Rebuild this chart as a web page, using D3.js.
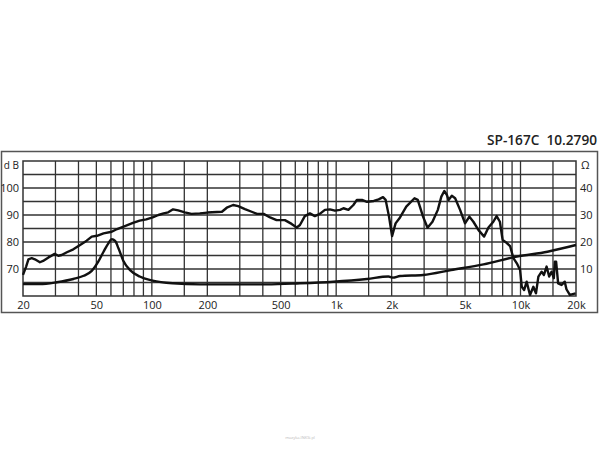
<!DOCTYPE html>
<html><head><meta charset="utf-8">
<script src="https://cdn.jsdelivr.net/npm/d3@7"></script>
<style>body{margin:0;background:#fff}svg{display:block}text{font-family:"Open Sans","Noto Sans",sans-serif}</style>
</head><body><div id="chart"></div>
<script>
const title = "SP-167C  10.2790";
const xTickVals = [20, 50, 100, 200, 500, 1000, 2000, 5000, 10000, 20000];
const xTickLabels = ["20", "50", "100", "200", "500", "1k", "2k", "5k", "10k", "20k"];
const xGrid = [30,40,50,60,70,80,90,100,150,200,300,400,500,600,700,800,900,1000,1500,2000,3000,4000,5000,6000,7000,8000,9000,10000,15000];
const dbTicks = [70, 80, 90, 100];
const ohmTicks = [10, 20, 30, 40];
const hGrid = [65,70,75,80,85,90,95,100,105];

const splFreq = [20,20.8,21.4,22.3,23.2,24.7,25.7,27.5,29.7,31.1,32.4,34.6,37.5,40.8,44.3,47.2,50.4,54.7,60.6,64.8,71.4,79,85.9,93.3,101,108.6,115.8,122.7,130.4,139,151,164,182,200,240,255,276,294,320,348,372,404,438,475,527,573,611,636,676,720,766,815,869,925,985,1050,1095,1165,1240,1295,1380,1470,1600,1700,1795,1855,1935,2010,2100,2220,2400,2660,2770,2960,3130,3330,3560,3720,3860,3990,4070,4240,4420,4700,5000,5280,5550,5920,6350,6700,7120,7420,7730,8000,8400,8780,9150,9550,9950,10160,10460,10800,11260,11740,12130,12500,13020,13400,13850,14300,14730,15160,15350,15600,16000,16700,17380,17750,18520,19900];
const splDb = [67.8,70.9,73.6,74,73.6,72.5,73,74.3,75.6,74.9,75.2,76.2,77.3,78.9,80.5,82,82.3,83.2,83.8,84.8,85.9,87.1,87.9,88.4,89.1,90,90.6,91,92.1,91.7,91,90.4,90.6,90.9,91.2,92.7,93.7,93.3,92.2,91.2,90.4,90.4,89.1,88.1,88.1,86.7,85.4,86.3,89.6,90.6,89.6,90.4,91.9,92.1,91.6,91.9,92.5,91.9,93.7,95.6,95.6,94.9,95.2,95.8,96.6,95.6,89.4,82.2,86.9,89.1,93.1,96.2,95.6,89.4,85.3,87.5,91.9,96.8,98.9,97.4,95.6,97.1,96.2,91.9,86.9,89.4,87.5,84.4,82,85.4,87.5,89.6,87.5,80.7,79.7,78.5,74,72.1,69.6,63.4,62.2,65.3,60.4,63.4,61,67.2,69,67.8,70.9,67.2,69,66.6,72.7,72.7,64.7,64.1,65.3,62.5,60.4,61];

const impFreq = [20,24.7,30.5,37.5,42.7,47.2,51.2,54.7,58.1,60.6,63.2,65.9,70.1,76.2,85.9,101,130,182,420,636,964,1470,1920,2030,2220,2960,4200,6300,9550,14000,20000];
const impOhm = [4.4,4.4,5.1,6.3,7.5,9.3,12.7,16.4,19.5,21,20.4,17.7,13,9.6,7.2,5.7,4.7,4.3,4.3,4.7,5.3,6.3,7.2,6.8,7.4,7.8,9.6,11.7,14.6,16.4,18.9];

(function () {
const W = 600, H = 450;
const pL = 23, pR = 576, pT = 161, pB = 296;
const svg = d3.select("#chart").append("svg").attr("width", W).attr("height", H);
const x = d3.scaleLog().domain([20, 20000]).range([pL, pR]);
const y = d3.scaleLinear().domain([60, 110]).range([pB, pT]);
const yOhm = d3.scaleLinear().domain([0, 50]).range([pB, pT]);

svg.append("rect").attr("x", 1.5).attr("y", 151.5).attr("width", 596).attr("height", 161)
  .attr("fill", "none").attr("stroke", "#555").attr("stroke-width", 1.5);

svg.append("text").attr("x", 597).attr("y", 145).attr("text-anchor", "end")
  .style("white-space", "pre").attr("xml:space", "preserve")
  .attr("font-size", 14).attr("font-weight", 600).attr("fill", "#222")
  .attr("textLength", 110).attr("lengthAdjust", "spacingAndGlyphs").text(title);

const grid = svg.append("g").attr("stroke", "#333").attr("stroke-width", 1.3);
grid.selectAll("line.v").data(xGrid).join("line").attr("class", "v")
  .attr("x1", d => x(d)).attr("x2", d => x(d)).attr("y1", pT).attr("y2", pB);
grid.selectAll("line.h").data(hGrid).join("line").attr("class", "h")
  .attr("x1", pL).attr("x2", pR).attr("y1", d => y(d)).attr("y2", d => y(d));
svg.append("rect").attr("x", pL).attr("y", pT).attr("width", pR - pL).attr("height", pB - pT)
  .attr("fill", "none").attr("stroke", "#333").attr("stroke-width", 1.5);

const xAxis = d3.axisBottom(x).tickValues(xTickVals).tickFormat((d, i) => xTickLabels[i]).tickSize(0).tickPadding(5);
const gx = svg.append("g").attr("transform", `translate(0,${pB})`).call(xAxis);
gx.select(".domain").remove();
gx.selectAll("text").attr("font-size", 11).attr("fill", "#222").attr("font-family", '"Open Sans",sans-serif');

const yAxis = d3.axisLeft(y).tickValues(dbTicks).tickSize(0).tickPadding(4);
const gy = svg.append("g").attr("transform", `translate(${pL},0)`).call(yAxis);
gy.select(".domain").remove();
gy.selectAll("text").attr("font-size", 11).attr("fill", "#222").attr("font-family", '"Open Sans",sans-serif');
svg.append("text").attr("x", 19).attr("y", 169).attr("text-anchor", "end").attr("font-size", 10).attr("fill", "#222").text("d B");

const yAxisR = d3.axisRight(yOhm).tickValues(ohmTicks).tickSize(0).tickPadding(4);
const gr = svg.append("g").attr("transform", `translate(${pR},0)`).call(yAxisR);
gr.select(".domain").remove();
gr.selectAll("text").attr("font-size", 11).attr("fill", "#222").attr("font-family", '"Open Sans",sans-serif');
svg.append("text").attr("x", 581).attr("y", 169).attr("font-size", 11).attr("fill", "#222").text("Ω");

const lineSpl = d3.line().x((d, i) => x(splFreq[i])).y(d => y(d)).curve(d3.curveLinear);
svg.append("path").attr("d", lineSpl(splDb)).attr("fill", "none").attr("stroke", "#111").attr("stroke-width", 2.4).attr("stroke-linejoin", "round");
const lineImp = d3.line().x((d, i) => x(impFreq[i])).y(d => yOhm(d)).curve(d3.curveMonotoneX);
svg.append("path").attr("d", lineImp(impOhm)).attr("fill", "none").attr("stroke", "#111").attr("stroke-width", 2.4).attr("stroke-linejoin", "round");

svg.append("text").attr("x", 300).attr("y", 439).attr("text-anchor", "middle").attr("font-size", 4).attr("fill", "#bbb").text("muzyka.INKSi.pl");
})();
</script></body></html>
